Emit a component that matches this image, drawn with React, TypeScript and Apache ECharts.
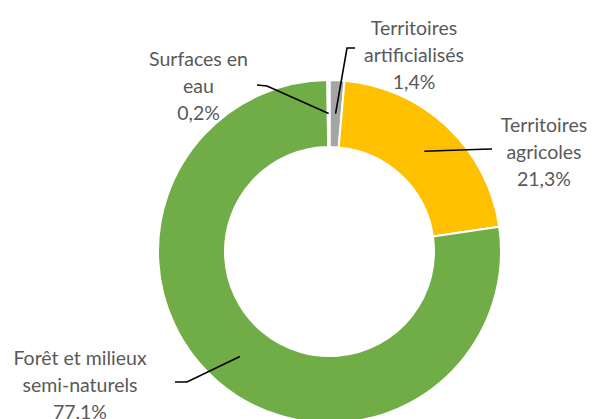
import React, { useEffect, useRef } from 'react';
import * as echarts from 'echarts';

// Data
const categories = [
  'Territoires\nartificialisés',
  'Territoires\nagricoles',
  'Forêt et milieux\nsemi-naturels',
  'Surfaces en\neau',
];
const values = [1.4, 21.3, 77.1, 0.2];

// Styles / layout
const colors = ['#A5A5A5', '#FFC000', '#70AD47', '#5B9BD5'];
const CENTER = [329.5, 251.5];
const RADII = [104.5, 171.5];
const labelLayouts = [
  { x: 414, y: 54, elbow: [347, 48], end: [355, 48] },
  { x: 544, y: 151, elbow: [482, 149.3], end: [492, 149] },
  { x: 80, y: 384, elbow: [187, 382], end: [175, 382] },
  { x: 198.5, y: 85, elbow: [267, 86], end: [257, 85] },
];

const fmt = (v: number) => v.toFixed(1).replace('.', ',') + '%';

export default function App() {
  const ref = useRef<HTMLDivElement>(null);
  useEffect(() => {
    if (!ref.current) return;
    const chart = echarts.init(ref.current, undefined, { renderer: 'svg' });
    const total = values.reduce((a, b) => a + b, 0);
    const rMid = (RADII[0] + RADII[1]) / 2;
    let cum = 0;
    const leaders = values.map((v, i) => {
      const a = ((cum + v / 2) / total) * Math.PI * 2;
      cum += v;
      const sx = CENTER[0] + rMid * Math.sin(a);
      const sy = CENTER[1] - rMid * Math.cos(a);
      const L = labelLayouts[i];
      return {
        type: 'polyline',
        z: 100,
        silent: true,
        shape: { points: [[sx, sy], L.elbow, L.end] },
        style: { stroke: '#000000', lineWidth: 1.6, fill: null },
      };
    });
    chart.setOption({
      animation: false,
      backgroundColor: '#ffffff',
      graphic: leaders,
      series: [
        {
          type: 'pie',
          center: CENTER,
          radius: RADII,
          startAngle: 90,
          clockwise: true,
          avoidLabelOverlap: false,
          itemStyle: { borderColor: '#ffffff', borderWidth: 2 },
          data: categories.map((name, i) => ({
            name,
            value: values[i],
            itemStyle: { color: colors[i] },
          })),
          label: {
            show: true,
            position: 'outside',
            formatter: (p: any) => `${p.name}\n${fmt(values[p.dataIndex])}`,
            fontFamily: 'Lato, "Open Sans", sans-serif',
            fontSize: 19.5,
            lineHeight: 27,
            color: '#595959',
            align: 'center',
          },
          labelLine: { show: false },
          labelLayout: (params: any) => {
            const L = labelLayouts[params.dataIndex];
            return {
              x: L.x,
              y: L.y,
              align: 'center',
              verticalAlign: 'middle',
            };
          },
        },
      ],
    });
    return () => chart.dispose();
  }, []);
  return (
    <div
      ref={ref}
      style={{ position: 'fixed', left: 0, top: 0, width: 592, height: 419 }}
    />
  );
}
